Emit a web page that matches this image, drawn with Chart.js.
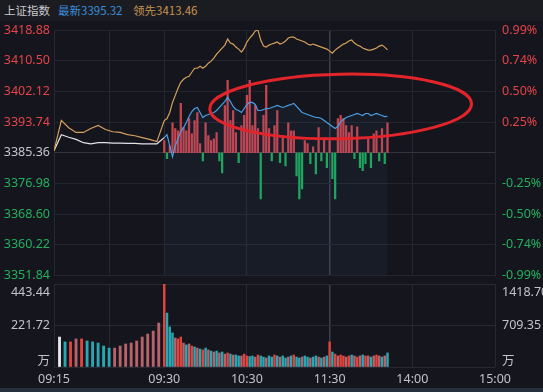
<!DOCTYPE html>
<html>
<head>
<meta charset="utf-8">
<script src="https://cdn.jsdelivr.net/npm/chart.js@4.4.1/dist/chart.umd.min.js"></script>
<style>
  html, body { margin: 0; padding: 0; background: #15161d; }
  #wrap { position: relative; width: 543px; height: 392px; overflow: hidden; background: #15161d; }
  #head { position: absolute; left: 0; top: 0; width: 543px; height: 21px; background: #1b1c22;
          font-family: 'Noto Sans CJK SC', 'Noto Sans', sans-serif; font-size: 11.5px; line-height: 21px; }
  #head span { position: absolute; top: 0; white-space: nowrap; }
  #main { position: absolute; left: 0; top: 0; }
  #vol { position: absolute; left: 0; top: 284px; }
  #foot { position: absolute; left: 0; top: 388px; width: 543px; height: 4px; background: #25303c; }
</style>
</head>
<body>
<div id="wrap">
  <div id="head">
    <span id="hName" style="left:4px; color:#c9c9cc;">上证指数</span>
    <span id="hLatest" style="left:58px; color:#3b8edb;"></span>
    <span id="hLead" style="left:133px; color:#c6924f;"></span>
  </div>
  <canvas id="main" width="543" height="290"></canvas>
  <canvas id="vol" width="543" height="108"></canvas>
  <div id="foot"></div>
</div>
<script>
// 昨收
const preClose = 3385.36;

// 刻度
const priceTicks = [3418.88, 3410.50, 3402.12, 3393.74, 3385.36, 3376.98, 3368.60, 3360.22, 3351.84];
const pctTicks = ['0.99%', '0.74%', '0.50%', '0.25%', '', '-0.25%', '-0.50%', '-0.74%', '-0.99%'];
const volTicks = ['443.44', '221.72', '万'];
const amtTicks = ['1418.70', '709.35', '万'];
const timeTicks = ['09:15', '09:30', '10:30', '11:30', '14:00', '15:00'];

// 集合竞价 09:15 - 09:29，每分钟
const preLead = [3385.9, 3394.2, 3392.2, 3390.9, 3390.9, 3392.0, 3392.8, 3391.7, 3391.1, 3390.9, 3390.3, 3390.0, 3389.5, 3389.0, 3388.4];
const preLatest = [3385.9, 3390.3, 3389.6, 3389.0, 3388.1, 3387.8, 3388.1, 3388.1, 3388.0, 3388.0, 3387.9, 3387.9, 3387.8, 3387.8, 3387.8];

// 09:30 起，每 2 分钟
const lead = [3394.15, 3394.70, 3396.35, 3399.10, 3401.02, 3402.95, 3404.60, 3405.42, 3405.97, 3406.24,
  3407.34, 3408.44, 3408.44, 3408.99, 3408.44, 3408.99, 3409.82, 3410.37, 3411.19, 3412.29,
  3413.11, 3413.94, 3414.76, 3416.41, 3415.31, 3415.04, 3414.21, 3413.66, 3412.84, 3413.94,
  3415.59, 3416.69, 3417.51, 3418.61, 3418.89, 3416.14, 3414.49, 3414.21, 3414.76, 3415.04,
  3415.31, 3415.59, 3415.04, 3415.31, 3415.86, 3416.69, 3416.96, 3416.96, 3416.41, 3416.14,
  3415.86, 3415.59, 3415.04, 3414.76, 3415.04, 3414.76, 3414.49, 3414.21, 3413.94, 3413.66,
  3413.11, 3412.57, 3413.39, 3413.94, 3414.49, 3415.04, 3415.31, 3415.86, 3416.14, 3415.31,
  3414.76, 3414.49, 3413.94, 3413.66, 3413.39, 3413.39, 3413.66, 3413.94, 3414.49, 3414.76,
  3414.21, 3413.46];
const latest = [3389.48, 3390.31, 3387.28, 3384.26, 3387.28, 3389.21, 3391.13, 3392.23, 3393.60, 3395.25,
  3396.63, 3397.45, 3397.73, 3396.35, 3394.98, 3395.53, 3395.80, 3396.08, 3396.35, 3396.90,
  3397.73, 3398.55, 3399.37, 3400.47, 3399.37, 3398.00, 3397.18, 3396.90, 3396.35, 3397.45,
  3398.55, 3399.10, 3399.10, 3398.55, 3396.90, 3396.90, 3397.18, 3397.45, 3397.45, 3397.73,
  3398.00, 3398.28, 3398.00, 3397.73, 3398.00, 3398.28, 3398.55, 3398.83, 3398.00, 3397.18,
  3396.35, 3396.08, 3395.80, 3395.53, 3395.25, 3394.98, 3394.98, 3394.70, 3394.15, 3393.60,
  3393.05, 3392.50, 3391.96, 3392.50, 3393.88, 3394.43, 3394.98, 3395.25, 3395.53, 3395.80,
  3396.08, 3395.80, 3395.53, 3396.08, 3396.08, 3395.53, 3395.80, 3396.08, 3395.80, 3395.53,
  3395.25, 3395.32];
// 红绿柱（相对昨收的点数）
const pressure = [3.3, -1.6, 1.9, 8.2, 6.6, 6.0, 13.5, 6.9, 6.0, 9.3,
  5.2, 8.8, 11.0, 2.5, -2.2, 8.2, 4.7, 3.3, 3.8, 5.5,
  -2.2, -5.5, 12.9, 19.8, 8.8, 11.5, 5.5, -2.7, 7.4, 10.2,
  15.7, 19.8, 7.4, 12.9, 6.6, -12.6, 10.2, 18.4, 6.6, -2.2,
  7.4, 11.5, -2.7, 4.7, -3.6, 8.2, 6.0, 6.0, -6.3, -12.6,
  -9.9, 3.3, 2.5, -3.0, 1.6, -5.8, 6.9, -2.2, 4.1, -4.1,
  3.3, -7.1, -12.6, 9.3, 10.2, 9.3, 7.4, 5.5, 7.4, -1.6,
  7.1, -4.1, -4.9, -3.0, 3.8, -4.1, 5.2, 6.0, -2.2, 6.6,
  -3.0, 8.2];

// 成交量（万）
const preVol = [160, 134, 134, 150, 150, 139, 134, 128, 112, 101, 101, 112, 123, 128, 139, 160, 176, 192, 235];
const preVolDir = ['o', 'd', 'u', 'f', 'u', 'd', 'd', 'd', 'd', 'd', 'f', 'f', 'f', 'f', 'f', 'f', 'f', 'f', 'f'];
const vol = [443.4, 288, 214, 182, 155, 150, 160, 128, 118, 123, 112, 107, 101, 96, 91, 101, 91, 85, 80, 85,
  75, 80, 69, 75, 69, 64, 64, 59, 59, 69, 59,
  56, 59, 53, 64, 59, 53, 48, 59, 53, 64, 59, 53, 59, 48, 53, 59, 64, 53, 48, 53, 59, 53, 48, 53, 59, 53, 48, 53, 59,
  134, 80, 69,
  59, 64, 59, 53, 59, 64, 59, 53, 59, 64, 59, 59, 53, 59, 64, 59, 53, 59, 75];
const volDir = ['u', 'd', 'd', 'd', 'f', 'u', 'u', 'f', 'd', 'f', 'u', 'd', 'f', 'd', 'u', 'd', 'f', 'd', 'f', 'd',
  'f', 'd', 'f', 'u', 'd', 'f', 'd', 'd', 'f', 'u', 'u',
  'd', 'd', 'f', 'u', 'd', 'd', 'f', 'd', 'd', 'u', 'd', 'f', 'd', 'd', 'f', 'd', 'u', 'd', 'd', 'f', 'd', 'd', 'f', 'd', 'd', 'f', 'd', 'f', 'd',
  'u', 'd', 'u',
  'f', 'u', 'u', 'f', 'u', 'd', 'f', 'u', 'f', 'd', 'u', 'f', 'd', 'f', 'u', 'f', 'd', 'f', 'd'];

// 手画的红圈标注
const noteRing = { time: '13:08', price: 3398.0, minutes: 95, points: 8.8 };

// 时间 -> 横轴单位（竞价 15 分钟占 1/4 宽度）
function hm(s) { const [h, m] = s.split(':').map(Number); return h * 60 + m; }
function toUnit(min) {
  if (min < 570) return (min - 555) * 80 / 15;
  if (min <= 690) return 80 + (min - 570);
  return 200 + (min - 780);
}
function tradeMin(j) {
  const m = j * 2;
  return m <= 120 ? 570 + m : 780 + (m - 120);
}

const dirColor = { u: '#e2443d', d: '#29a8b4', f: '#b8636b', o: '#e8e8ec' };
const RED = '#e5434a', GREEN = '#22b05f', GREY = '#c6c6ca';

document.getElementById('hLatest').textContent = '最新' + latest[latest.length - 1].toFixed(2);
document.getElementById('hLead').textContent = '领先' + lead[lead.length - 1].toFixed(2);

const leadPts = preLead.map((v, i) => ({ x: toUnit(555 + i), y: v }))
  .concat(lead.map((v, j) => ({ x: toUnit(tradeMin(j)), y: v })));
const prePts = preLatest.map((v, i) => ({ x: toUnit(555 + i), y: v }))
  .concat([{ x: toUnit(570), y: latest[0] }]);
const tradePts = latest.map((v, j) => ({ x: toUnit(tradeMin(j)), y: v }));
const pressPts = pressure.map((p, j) => ({ x: toUnit(tradeMin(j)), y: [preClose, preClose + p] }));

const gridUnits = timeTicks.map(t => toUnit(hm(t)));
gridUnits.splice(1, 0, toUnit(562.5));
const noonUnit = toUnit(hm('11:30'));

Chart.defaults.font.family = "'Noto Sans', 'Noto Sans CJK SC', sans-serif";
Chart.defaults.font.size = 12.5;
Chart.defaults.animation = false;
Chart.defaults.plugins.legend.display = false;
Chart.defaults.plugins.tooltip.enabled = false;

function vGridColor(ctx) {
  if (ctx.tick && ctx.tick.value === noonUnit) return '#3d3f4c';
  return '#262832';
}
const vGridWidth = c => (c.tick && c.tick.value === noonUnit) ? 1.5 : 1;

// 红圈
const ringPlugin = {
  id: 'ring',
  afterDatasetsDraw(chart) {
    const x = chart.scales.x, y = chart.scales.y;
    const u = toUnit(hm(noteRing.time));
    const cx = x.getPixelForValue(u);
    const rx = x.getPixelForValue(u + noteRing.minutes) - cx;
    const cy = y.getPixelForValue(noteRing.price);
    const ry = y.getPixelForValue(noteRing.price - noteRing.points) - cy;
    const ctx = chart.ctx;
    ctx.save();
    ctx.strokeStyle = '#e3242b';
    ctx.lineWidth = 3;
    ctx.beginPath();
    ctx.ellipse(cx, cy, rx, ry, -0.02, 0, Math.PI * 2);
    ctx.stroke();
    ctx.restore();
  }
};

new Chart(document.getElementById('main'), {
  type: 'line',
  data: {
    datasets: [
      { label: '领先', data: leadPts, borderColor: '#d4a05c', borderWidth: 1.2, pointRadius: 0, tension: 0, order: 1 },
      { label: '竞价', data: prePts, borderColor: '#e2e2e8', borderWidth: 1.2, pointRadius: 0, tension: 0, order: 1 },
      { label: '最新', data: tradePts, borderColor: '#4a9fe6', borderWidth: 1.2, pointRadius: 0, tension: 0,
        fill: 'start', backgroundColor: 'rgba(60,110,180,0.07)', order: 2 },
      { type: 'bar', label: '强弱', data: pressPts, grouped: false, barThickness: 1.6, order: 3,
        backgroundColor: pressure.map(p => p >= 0 ? 'rgba(218,74,84,0.9)' : 'rgba(30,178,92,0.95)') }
    ]
  },
  options: {
    responsive: false,
    layout: { padding: { top: 30, bottom: 5, left: 0, right: 0 } },
    scales: {
      x: {
        type: 'linear', min: 0, max: 320, offset: false,
        afterBuildTicks: s => { s.ticks = gridUnits.map(v => ({ value: v })); },
        afterFit: s => { s.height = 0; },
        ticks: { display: false },
        grid: { color: vGridColor, lineWidth: vGridWidth, drawTicks: false, offset: false },
        border: { display: false }
      },
      y: {
        position: 'left', min: priceTicks[priceTicks.length - 1], max: priceTicks[0],
        afterBuildTicks: s => { s.ticks = priceTicks.map(v => ({ value: v })); },
        afterFit: s => { s.width = 54; },
        ticks: {
          autoSkip: false, padding: 4,
          callback: v => v.toFixed(2),
          color: c => c.tick.value > preClose + 0.001 ? RED : (c.tick.value < preClose - 0.001 ? GREEN : GREY)
        },
        grid: { drawTicks: false, color: c => (c.tick && Math.abs(c.tick.value - preClose) < 0.001) ? '#34363f' : '#23252e' },
        border: { display: false }
      },
      yr: {
        position: 'right', min: priceTicks[priceTicks.length - 1], max: priceTicks[0],
        afterBuildTicks: s => { s.ticks = priceTicks.map(v => ({ value: v })); },
        afterFit: s => { s.width = 48; },
        ticks: {
          autoSkip: false, padding: 7,
          callback: (v, i) => pctTicks[i],
          color: c => c.index < 4 ? RED : GREEN
        },
        grid: { display: false, drawTicks: false },
        border: { display: false }
      }
    }
  },
  plugins: [ringPlugin]
});

// 成交量面板
const volLabels = {
  id: 'volLabels',
  afterDraw(chart) {
    const { ctx, chartArea: a } = chart;
    const ys = [a.top + 8.5, (a.top + a.bottom) / 2, a.bottom - 6];
    ctx.save();
    ctx.font = "12.5px 'Noto Sans', 'Noto Sans CJK SC', sans-serif";
    ctx.fillStyle = '#c3c3c7';
    ctx.textBaseline = 'middle';
    ctx.textAlign = 'right';
    volTicks.forEach((t, i) => ctx.fillText(t, a.left - 4, ys[i]));
    ctx.textAlign = 'left';
    amtTicks.forEach((t, i) => ctx.fillText(t, a.right + 7, ys[i]));
    ctx.restore();
  }
};

const volMax = Number(volTicks[0]);
new Chart(document.getElementById('vol'), {
  type: 'bar',
  data: {
    datasets: [
      { data: preVol.map((v, i) => ({ x: toUnit(555 + 0.75 * (i + 1)), y: v })), grouped: false, barThickness: 2.2,
        backgroundColor: preVolDir.map(d => dirColor[d]) },
      { data: vol.map((v, j) => ({ x: toUnit(tradeMin(j)), y: v })), grouped: false, barThickness: 1.8,
        backgroundColor: volDir.map(d => dirColor[d]) }
    ]
  },
  options: {
    responsive: false,
    layout: { padding: 0 },
    scales: {
      x: {
        type: 'linear', min: 0, max: 320, offset: false,
        afterBuildTicks: s => { s.ticks = gridUnits.map(v => ({ value: v })); },
        afterFit: s => { s.height = 25; },
        ticks: {
          autoSkip: false, maxRotation: 0, padding: 5, color: '#c3c3c7',
          callback: v => { const i = timeTicks.findIndex(t => toUnit(hm(t)) === v); return i >= 0 ? timeTicks[i] : ''; }
        },
        grid: { color: vGridColor, lineWidth: vGridWidth, drawTicks: false, offset: false },
        border: { display: false }
      },
      y: {
        position: 'left', min: 0, max: volMax,
        afterBuildTicks: s => { s.ticks = [0, volMax / 2, volMax].map(v => ({ value: v })); },
        afterFit: s => { s.width = 54; },
        ticks: { display: false },
        grid: { drawTicks: false, color: '#262832' },
        border: { display: false }
      },
      yr: {
        position: 'right', min: 0, max: volMax,
        afterFit: s => { s.width = 48; },
        ticks: { display: false },
        grid: { display: false },
        border: { display: false }
      }
    }
  },
  plugins: [volLabels]
});
</script>
</body>
</html>
